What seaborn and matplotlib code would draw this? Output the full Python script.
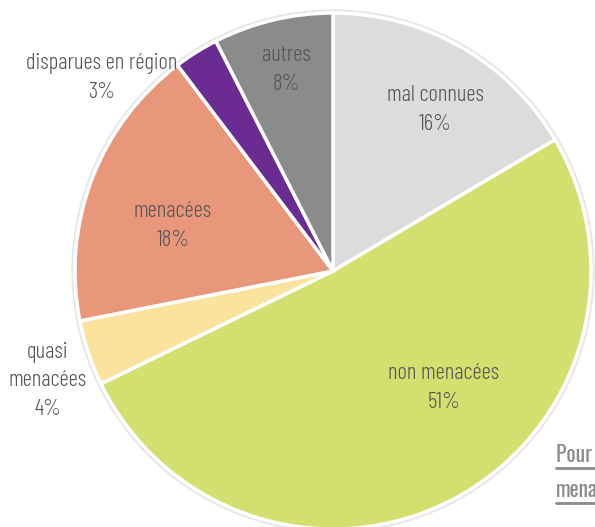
import matplotlib
matplotlib.use("Agg")
import matplotlib.pyplot as plt
import seaborn as sns
from matplotlib.patches import Circle

categories = ["mal connues", "non menacées", "quasi\nmenacées", "menacées", "disparues en région", "autres"]
values = [16.5, 51.3, 4.1, 17.8, 2.8, 7.5]
pct_labels = ["16%", "51%", "4%", "18%", "3%", "8%"]
colors = ["#dcdcdc", "#d3e070", "#fbe39e", "#e9977a", "#6a2b93", "#8b8b8b"]

sns.set_theme(style="white")
plt.rcParams['font.family'] = ['Barlow Condensed', 'DejaVu Sans']

W, H = 595, 527
fig = plt.figure(figsize=(W / 100, H / 100), dpi=100)
ax = fig.add_axes([0, 0, 1, 1])

cx, cy, r = 333, H - 271, 258
ax.add_patch(Circle((cx, cy), r + 1.5, facecolor="none", edgecolor="#e6e6e6", lw=3, zorder=0))
ax.pie(values, colors=colors, startangle=90, counterclock=False, center=(cx, cy), radius=r,
       wedgeprops=dict(edgecolor="white", linewidth=2.5), frame=True)
ax.set_xlim(0, W)
ax.set_ylim(0, H)
ax.axis("off")

# label positions (pixel coords from top)
label_pos = [(435, 110), (444, 388), (48, 381), (173, 226), (102, 78), (286, 70)]
tc = "#555555"
fs = 16.5
for cat, pct, (x, y) in zip(categories, pct_labels, label_pos):
    ax.text(x, H - y, cat + "\n" + pct, ha="center", va="center", color=tc,
            fontsize=fs, fontweight=300, linespacing=1.45)

# clipped footnote bottom-right
for txt, y in [("Pour en savoir plus", 455), ("menacées", 490)]:
    ax.text(556, H - y, txt, ha="left", va="center", color="#8a8a8a", fontsize=15.5,
            family=['Oswald', 'DejaVu Sans'])
    ax.plot([556, 610], [H - y - 13, H - y - 13], color="#8a8a8a", lw=2, clip_on=False)

fig.savefig("out.png", dpi=100)
